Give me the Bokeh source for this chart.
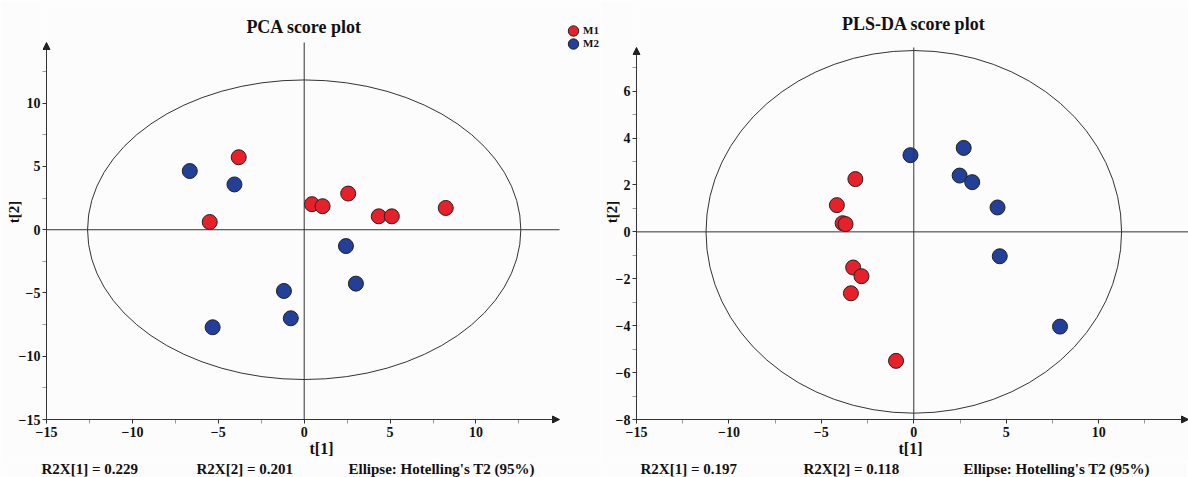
from bokeh.plotting import figure
from bokeh.models import (Label, Legend, LegendItem, Arrow, NormalHead,
                          FixedTicker, Range1d)
from bokeh.layouts import row, column
from bokeh.embed import file_html
from bokeh.resources import INLINE

# ---------------- data ----------------
groups = ["M1", "M2"]
group_colors = ["#e8202a", "#22409a"]

# PCA score plot
pca_m1_t1 = [-3.81, -5.50, 0.45, 1.07, 2.56, 4.34, 5.10, 8.24]
pca_m1_t2 = [5.73, 0.61, 2.02, 1.86, 2.86, 1.06, 1.06, 1.72]
pca_m2_t1 = [-6.66, -4.06, 2.43, 3.01, -1.18, -0.78, -5.33]
pca_m2_t2 = [4.64, 3.58, -1.29, -4.26, -4.84, -7.00, -7.71]
pca_ellipse = [12.61, 11.84]          # Hotelling's T2 (95%) semi-axes
pca_x_ticks = [-15, -10, -5, 0, 5, 10]
pca_y_ticks = [-15, -10, -5, 0, 5, 10]
pca_x_minor = [-12.5, -7.5, -2.5, 2.5, 7.5, 12.5]
pca_y_minor = [-12.5, -7.5, -2.5, 2.5, 7.5, 12.5]
pca_axis_min = [-15, -15]
pca_axis_max = [14.86, 14.8]
pca_stats = ["R2X[1] = 0.229", "R2X[2] = 0.201", "Ellipse: Hotelling's T2 (95%)"]

# PLS-DA score plot
pls_m1_t1 = [-3.16, -4.16, -3.85, -3.69, -3.28, -2.83, -3.40, -0.96]
pls_m1_t2 = [2.25, 1.14, 0.37, 0.33, -1.52, -1.89, -2.62, -5.50]
pls_m2_t1 = [-0.18, 2.70, 2.48, 3.16, 4.53, 4.65, 7.91]
pls_m2_t2 = [3.27, 3.58, 2.40, 2.12, 1.04, -1.04, -4.04]
pls_ellipse = [11.24, 7.73]
pls_x_ticks = [-15, -10, -5, 0, 5, 10]
pls_y_ticks = [-8, -6, -4, -2, 0, 2, 4, 6]
pls_x_minor = [-12.5, -7.5, -2.5, 2.5, 7.5, 12.5]
pls_y_minor = [-7, -5, -3, -1, 1, 3, 5, 7]
pls_axis_min = [-15, -8]
pls_axis_max = [14.86, 7.86]
pls_stats = ["R2X[1] = 0.197", "R2X[2] = 0.118", "Ellipse: Hotelling's T2 (95%)"]

FONT = "Liberation Serif"
INK = "#222222"
AXC = "#333333"
TXT = "#111111"
BG = "#fcfcfc"


def panel(title, m1x, m1y, m2x, m2y, ell, xt, yt, xm, ym, amin, amax,
          xr, yr, fw, fh, bl, ylab_standoff, title_y, legend_loc=None):
    p = figure(title=None, frame_width=fw, frame_height=fh,
               min_border_left=bl, min_border_right=0,
               min_border_top=0, min_border_bottom=37,
               x_range=Range1d(*xr), y_range=Range1d(*yr),
               output_backend="svg", toolbar_location=None,
               background_fill_color=BG, border_fill_color=BG)
    p.grid.visible = False
    p.outline_line_color = None

    p.xaxis.ticker = FixedTicker(ticks=xt, minor_ticks=xm)
    p.yaxis.ticker = FixedTicker(ticks=yt, minor_ticks=ym)
    p.xaxis.axis_label = "t[1]"
    p.yaxis.axis_label = "t[2]"
    for ax in (p.xaxis[0], p.yaxis[0]):
        ax.axis_line_color = None
        ax.major_tick_line_color = AXC
        ax.minor_tick_line_color = "#999999"
        ax.major_tick_in = 4
        ax.major_tick_out = 0
        ax.minor_tick_in = 4
        ax.minor_tick_out = 0
        ax.major_label_text_font = FONT
        ax.major_label_text_font_style = "bold"
        ax.major_label_text_font_size = "14px"
        ax.major_label_text_color = TXT
        ax.axis_label_text_font = FONT
        ax.axis_label_text_font_style = "bold"
        ax.axis_label_text_color = TXT
    p.xaxis.axis_label_text_font_size = "16px"
    p.yaxis.axis_label_text_font_size = "15px"
    p.xaxis.major_label_standoff = 3
    p.xaxis.axis_label_standoff = 0
    p.yaxis.major_label_standoff = 2
    p.yaxis.axis_label_standoff = ylab_standoff

    # axis lines with arrow heads
    head = dict(size=7, fill_color=INK, line_color=INK, line_width=1)
    p.add_layout(Arrow(end=NormalHead(**head), x_start=amin[0], y_start=amin[1],
                       x_end=amin[0], y_end=amax[1], line_color=AXC, line_width=1))
    p.add_layout(Arrow(end=NormalHead(**head), x_start=amin[0], y_start=amin[1],
                       x_end=amax[0], y_end=amin[1], line_color=AXC, line_width=1))
    # zero lines
    p.add_layout(Arrow(end=None, x_start=0, y_start=amin[1], x_end=0, y_end=amax[1],
                       line_color=AXC, line_width=1))
    p.add_layout(Arrow(end=None, x_start=amin[0], y_start=0, x_end=amax[0], y_end=0,
                       line_color=AXC, line_width=1))

    # Hotelling ellipse
    p.ellipse(x=[0], y=[0], width=[2 * ell[0]], height=[2 * ell[1]],
              fill_color=None, line_color=AXC, line_width=1)

    r1 = p.ellipse(x=m1x, y=m1y, width=15, height=15,
                   width_units="screen", height_units="screen",
                   fill_color=group_colors[0], line_color=INK, line_width=1)
    r2 = p.ellipse(x=m2x, y=m2y, width=15, height=15,
                   width_units="screen", height_units="screen",
                   fill_color=group_colors[1], line_color=INK, line_width=1)

    p.add_layout(Label(x=0, y=title_y, x_units="data", y_units="screen",
                       text=title, text_align="center", text_baseline="middle",
                       text_font=FONT, text_font_style="bold", text_font_size="18px",
                       text_color=TXT))

    if legend_loc is not None:
        lg = Legend(items=[LegendItem(label=groups[0], renderers=[r1]),
                           LegendItem(label=groups[1], renderers=[r2])],
                    location=legend_loc, orientation="vertical",
                    glyph_width=20, glyph_height=13, label_height=13,
                    label_standoff=0, spacing=0, padding=0, margin=0,
                    border_line_color=None, background_fill_alpha=0,
                    label_text_font=FONT, label_text_font_style="bold",
                    label_text_font_size="11px", label_text_color=TXT)
        p.add_layout(lg)
    return p


def stats_strip(width, stats, xs):
    t = figure(width=width, height=17, x_axis_type=None, y_axis_type=None,
               min_border=0, output_backend="svg", toolbar_location=None,
               background_fill_color=BG, border_fill_color=BG)
    t.grid.visible = False
    t.outline_line_color = None
    for sx, s in zip(xs, stats):
        t.add_layout(Label(x=sx, y=8.5, x_units="screen", y_units="screen",
                           text=s, text_align="left", text_baseline="middle",
                           text_font=FONT, text_font_style="bold",
                           text_font_size="15px", text_color=TXT))
    return t


p1 = panel("PCA score plot", pca_m1_t1, pca_m1_t2, pca_m2_t1, pca_m2_t2,
           pca_ellipse, pca_x_ticks, pca_y_ticks, pca_x_minor, pca_y_minor,
           pca_axis_min, pca_axis_max,
           xr=(-15.233, 17.247), yr=(-15.316, 18.12),
           fw=558, fh=423, bl=42, ylab_standoff=-6,
           title_y=396.5, legend_loc=(521, 373.5))
p2 = panel("PLS-DA score plot", pls_m1_t1, pls_m1_t2, pls_m2_t1, pls_m2_t2,
           pls_ellipse, pls_x_ticks, pls_y_ticks, pls_x_minor, pls_y_minor,
           pls_axis_min, pls_axis_max,
           xr=(-15.216, 14.86), yr=(-8.1705, 9.864),
           fw=556, fh=423, bl=31, ylab_standoff=-7,
           title_y=399.5)

s1 = stats_strip(600, pca_stats, [41, 196, 348])
s2 = stats_strip(587, pls_stats, [40, 203, 363])

layout = column(row(p1, p2), row(s1, s2))
open("out.html", "w").write(file_html(layout, INLINE))
